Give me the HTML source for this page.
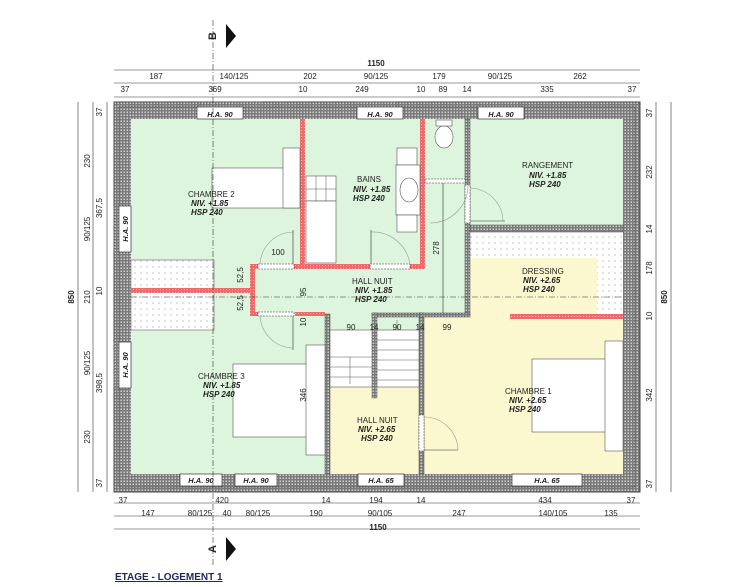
<!DOCTYPE html>
<html><head><meta charset="utf-8"><style>
html,body{margin:0;padding:0;background:#fff;width:736px;height:587px;overflow:hidden}
svg{display:block}
text{font-family:"Liberation Sans",sans-serif;fill:#222}
.d{font-size:8px;text-anchor:middle}
.l{font-size:8px}
.b{font-size:8px;font-weight:bold;font-style:italic}
</style></head><body>
<svg width="736" height="587" viewBox="0 0 736 587">
<defs>
<pattern id="hw" width="3" height="3" patternUnits="userSpaceOnUse"><rect width="3" height="3" fill="#7a7a7a"/><rect x="0.5" y="0.5" width="1.5" height="1.5" fill="#cfcfcf"/></pattern>
<pattern id="dt" width="6" height="6" patternUnits="userSpaceOnUse"><rect width="6" height="6" fill="#fff"/><circle cx="3" cy="3" r="0.6" fill="#999"/></pattern>
<pattern id="rd" width="3" height="3" patternUnits="userSpaceOnUse"><rect width="3" height="3" fill="#ef6a6a"/><rect x="1" y="1" width="1" height="1" fill="#f8b0b0"/></pattern>
</defs>

<rect x="114" y="102" width="526" height="390" fill="url(#hw)" stroke="#444" stroke-width="1"/>
<rect x="119" y="107" width="516" height="380" fill="none" stroke="#555" stroke-width="0.6"/>
<rect x="131" y="119" width="492" height="355" fill="#dcf5dc"/>
<rect x="470" y="258" width="127" height="57" fill="#fbf8cf"/>
<rect x="422" y="315" width="201" height="159" fill="#fbf8cf"/>
<rect x="328" y="387" width="92" height="87" fill="#fbf8cf"/>
<rect x="470" y="232" width="153" height="26" fill="url(#dt)"/>
<rect x="597" y="258" width="26" height="57" fill="url(#dt)"/>
<rect x="131" y="260" width="83" height="70" fill="url(#dt)" stroke="#666" stroke-width="0.6"/>
<rect x="465" y="119" width="5" height="196" fill="url(#hw)" stroke="#444" stroke-width="0.5"/>
<rect x="470" y="225" width="153" height="7" fill="url(#hw)" stroke="#444" stroke-width="0.5"/>
<rect x="419" y="313" width="5" height="161" fill="url(#hw)" stroke="#444" stroke-width="0.5"/>
<rect x="325" y="314" width="5" height="160" fill="url(#hw)" stroke="#444" stroke-width="0.5"/>
<rect x="372" y="313" width="48" height="4" fill="url(#hw)" stroke="#444" stroke-width="0.5"/>
<rect x="420" y="313" width="50" height="4" fill="url(#hw)" stroke="#444" stroke-width="0.5"/>
<rect x="372" y="313" width="5" height="85" fill="url(#hw)" stroke="#444" stroke-width="0.4"/>
<rect x="300" y="119" width="5" height="147" fill="url(#rd)"/>
<rect x="420" y="119" width="5" height="147" fill="url(#rd)"/>
<rect x="250" y="264" width="175" height="5" fill="url(#rd)"/>
<rect x="250" y="264" width="5" height="50" fill="url(#rd)"/>
<rect x="131" y="288" width="121" height="5" fill="url(#rd)"/>
<rect x="295" y="312" width="30" height="4" fill="url(#rd)"/>
<rect x="250" y="312" width="8" height="4" fill="url(#rd)"/>
<rect x="510" y="314" width="113" height="5" fill="url(#rd)"/>
<rect x="258" y="264" width="36" height="5" fill="#fff" stroke="#333" stroke-width="0.5" stroke-dasharray="2,1"/>
<rect x="370" y="264" width="40" height="5" fill="#fff" stroke="#333" stroke-width="0.5" stroke-dasharray="2,1"/>
<rect x="258" y="312" width="36" height="4" fill="#fff" stroke="#333" stroke-width="0.5" stroke-dasharray="2,1"/>
<rect x="425" y="179" width="40" height="4" fill="#fff" stroke="#333" stroke-width="0.5" stroke-dasharray="2,1"/>
<rect x="465" y="185" width="5" height="38" fill="#fff" stroke="#333" stroke-width="0.5" stroke-dasharray="2,1"/>
<rect x="419" y="415" width="5" height="36" fill="#fff" stroke="#333" stroke-width="0.5" stroke-dasharray="2,1"/>
<g fill="none" stroke="#999" stroke-width="0.6">
<path d="M293 232 A34 34 0 0 0 260 264"/><line x1="293" y1="230" x2="293" y2="264" stroke="#333"/>
<path d="M371 232 A38 38 0 0 1 410 264"/><line x1="371" y1="230" x2="371" y2="264" stroke="#333"/>
<path d="M293 348 A34 34 0 0 1 260 316"/><line x1="293" y1="316" x2="293" y2="350" stroke="#333"/>
<path d="M430 223 A38 38 0 0 0 468 185"/>
<path d="M503 221 A34 34 0 0 0 470 188"/><line x1="470" y1="221" x2="505" y2="221" stroke="#333"/>
<path d="M458 450 A34 34 0 0 0 424 417"/><line x1="424" y1="450" x2="458" y2="450" stroke="#333"/>
<line x1="443" y1="183" x2="443" y2="313" stroke="#333"/>
</g>
<g fill="#fff" stroke="#333" stroke-width="0.7">
<rect x="197" y="107" width="46" height="12"/><rect x="357" y="107" width="46" height="12"/><rect x="478" y="107" width="46" height="12"/>
<rect x="119" y="206" width="12" height="46"/><rect x="119" y="342" width="12" height="46"/>
<rect x="180" y="474" width="42" height="12"/><rect x="235" y="474" width="42" height="12"/><rect x="358" y="474" width="46" height="12"/><rect x="512" y="474" width="70" height="12"/>
</g>
<g fill="none" stroke="#777" stroke-width="0.6" stroke-dasharray="2,1">
<rect x="199" y="102" width="62" height="5"/><rect x="355" y="102" width="42" height="5"/><rect x="478" y="102" width="42" height="5"/>
<rect x="114" y="206" width="5" height="46"/><rect x="114" y="342" width="5" height="46"/>
<rect x="181" y="487" width="40" height="5"/><rect x="236" y="487" width="40" height="5"/><rect x="359" y="487" width="44" height="5"/><rect x="513" y="487" width="66" height="5"/>
</g>
<g class="b" style="font-size:7.5px" text-anchor="middle">
<text x="220" y="117">H.A. 90</text><text x="380" y="117">H.A. 90</text><text x="501" y="117">H.A. 90</text>
<text x="201" y="483">H.A. 90</text><text x="256" y="483">H.A. 90</text><text x="381" y="483">H.A. 65</text><text x="547" y="483">H.A. 65</text>
<text transform="translate(128,229) rotate(-90)">H.A. 90</text><text transform="translate(128,365) rotate(-90)">H.A. 90</text>
</g>
<g fill="#fff" stroke="#555" stroke-width="0.6">
<rect x="212" y="168" width="88" height="40"/><rect x="283" y="148" width="17" height="60"/>
<rect x="306" y="176" width="30" height="25"/><rect x="306" y="201" width="30" height="62"/>
<rect x="397" y="148" width="20" height="17"/><rect x="396" y="165" width="24" height="50"/><rect x="397" y="215" width="20" height="17"/>
<ellipse cx="409" cy="190" rx="9" ry="12"/>
<ellipse cx="444" cy="137" rx="9" ry="11"/><rect x="436" y="120" width="16" height="6"/>
<rect x="233" y="364" width="92" height="73"/><rect x="306" y="345" width="19" height="110"/>
<rect x="532" y="359" width="91" height="73"/><rect x="605" y="341" width="18" height="110"/>
<rect x="330" y="330" width="42" height="57"/><rect x="377" y="330" width="42" height="57"/>
</g>
<g stroke="#555" stroke-width="0.5">
<line x1="306" y1="189" x2="336" y2="189"/><line x1="316" y1="176" x2="316" y2="201"/><line x1="326" y1="176" x2="326" y2="201"/>
<line x1="377" y1="340" x2="419" y2="340"/><line x1="377" y1="350" x2="419" y2="350"/><line x1="377" y1="360" x2="419" y2="360"/><line x1="377" y1="370" x2="419" y2="370"/><line x1="377" y1="380" x2="419" y2="380"/>
<line x1="330" y1="357" x2="372" y2="357"/><line x1="330" y1="367" x2="372" y2="367"/><line x1="330" y1="377" x2="372" y2="377"/>
<line x1="350" y1="357" x2="350" y2="384"/><line x1="397" y1="320" x2="397" y2="330"/>
</g>
<g stroke="#333" stroke-width="0.6" stroke-dasharray="6,2,1,2">
<line x1="131" y1="297" x2="623" y2="297"/>
<line x1="213" y1="20" x2="213" y2="565"/>
</g>
<text class="l" x="188" y="197">CHAMBRE 2</text><text class="b" x="191" y="206">NIV. +1.85</text><text class="b" x="191" y="215">HSP 240</text>
<text class="l" x="357" y="182">BAINS</text><text class="b" x="353" y="192">NIV. +1.85</text><text class="b" x="353" y="201">HSP 240</text>
<text class="l" x="522" y="168">RANGEMENT</text><text class="b" x="529" y="178">NIV. +1.85</text><text class="b" x="529" y="187">HSP 240</text>
<text class="l" x="522" y="274">DRESSING</text><text class="b" x="523" y="283">NIV. +2.65</text><text class="b" x="523" y="292">HSP 240</text>
<text class="l" x="352" y="284">HALL NUIT</text><text class="b" x="355" y="293">NIV. +1.85</text><text class="b" x="355" y="302">HSP 240</text>
<text class="l" x="198" y="379">CHAMBRE 3</text><text class="b" x="203" y="388">NIV. +1.85</text><text class="b" x="203" y="397">HSP 240</text>
<text class="l" x="357" y="423">HALL NUIT</text><text class="b" x="358" y="432">NIV. +2.65</text><text class="b" x="361" y="441">HSP 240</text>
<text class="l" x="505" y="394">CHAMBRE 1</text><text class="b" x="509" y="403">NIV. +2.65</text><text class="b" x="509" y="412">HSP 240</text>
<g class="d">
<text x="278" y="255">100</text><text x="351" y="330">90</text><text x="374" y="330">14</text><text x="397" y="330">90</text><text x="420" y="330">14</text><text x="447" y="330">99</text>
<text transform="translate(243,275) rotate(-90)">52,5</text><text transform="translate(243,303) rotate(-90)">52,5</text>
<text transform="translate(306,292) rotate(-90)">95</text><text transform="translate(306,322) rotate(-90)">10</text>
<text transform="translate(439,248) rotate(-90)">278</text><text transform="translate(306,395) rotate(-90)">346</text>
</g>
<g stroke="#333" stroke-width="0.6">
<line x1="114" y1="70" x2="640" y2="70"/><line x1="114" y1="83" x2="640" y2="83"/><line x1="114" y1="97" x2="640" y2="97"/>
<line x1="114" y1="503" x2="640" y2="503"/><line x1="114" y1="516" x2="640" y2="516"/><line x1="114" y1="529" x2="640" y2="529"/>
<line x1="78" y1="102" x2="78" y2="492"/><line x1="93" y1="102" x2="93" y2="492"/><line x1="107" y1="102" x2="107" y2="492"/>
<line x1="656" y1="102" x2="656" y2="492"/><line x1="671" y1="102" x2="671" y2="492"/>
</g>
<g class="d">
<text x="376" y="66" font-weight="bold">1150</text>
<text x="156" y="79">187</text><text x="234" y="79">140/125</text><text x="310" y="79">202</text><text x="376" y="79">90/125</text><text x="439" y="79">179</text><text x="500" y="79">90/125</text><text x="580" y="79">262</text>
<text x="125" y="92">37</text><text x="215" y="92">369</text><text x="303" y="92">10</text><text x="362" y="92">249</text><text x="421" y="92">10</text><text x="443" y="92">89</text><text x="467" y="92">14</text><text x="547" y="92">335</text><text x="632" y="92">37</text>
<text x="123" y="503">37</text><text x="222" y="503">420</text><text x="326" y="503">14</text><text x="376" y="503">194</text><text x="421" y="503">14</text><text x="545" y="503">434</text><text x="631" y="503">37</text>
<text x="148" y="516">147</text><text x="200" y="516">80/125</text><text x="227" y="516">40</text><text x="258" y="516">80/125</text><text x="316" y="516">190</text><text x="380" y="516">90/105</text><text x="459" y="516">247</text><text x="553" y="516">140/105</text><text x="611" y="516">135</text>
<text x="378" y="530" font-weight="bold">1150</text>
</g>
<g class="d">
<text transform="translate(74,297) rotate(-90)" font-weight="bold">850</text>
<text transform="translate(90,161) rotate(-90)">230</text><text transform="translate(90,229) rotate(-90)">90/125</text><text transform="translate(90,297) rotate(-90)">210</text><text transform="translate(90,363) rotate(-90)">90/125</text><text transform="translate(90,437) rotate(-90)">230</text>
<text transform="translate(102,112) rotate(-90)">37</text><text transform="translate(102,208) rotate(-90)">367,5</text><text transform="translate(102,291) rotate(-90)">10</text><text transform="translate(102,383) rotate(-90)">398,5</text><text transform="translate(102,483) rotate(-90)">37</text>
<text transform="translate(652,113) rotate(-90)">37</text><text transform="translate(652,172) rotate(-90)">232</text><text transform="translate(652,229) rotate(-90)">14</text><text transform="translate(652,268) rotate(-90)">178</text><text transform="translate(652,316) rotate(-90)">10</text><text transform="translate(652,395) rotate(-90)">342</text><text transform="translate(652,484) rotate(-90)">37</text>
<text transform="translate(667,297) rotate(-90)" font-weight="bold">850</text>
</g>
<polygon points="226,24 236,36 226,48" fill="#111"/>
<text transform="translate(216,36) rotate(-90)" font-size="11" font-weight="bold" text-anchor="middle">B</text>
<polygon points="226,537 236,549 226,561" fill="#111"/>
<text transform="translate(216,549) rotate(-90)" font-size="11" font-weight="bold" text-anchor="middle">A</text>
<text x="115" y="580" font-size="10" font-weight="bold" style="fill:#1c2a5a;text-decoration:underline">ETAGE - LOGEMENT 1</text>
</svg>
</body></html>
